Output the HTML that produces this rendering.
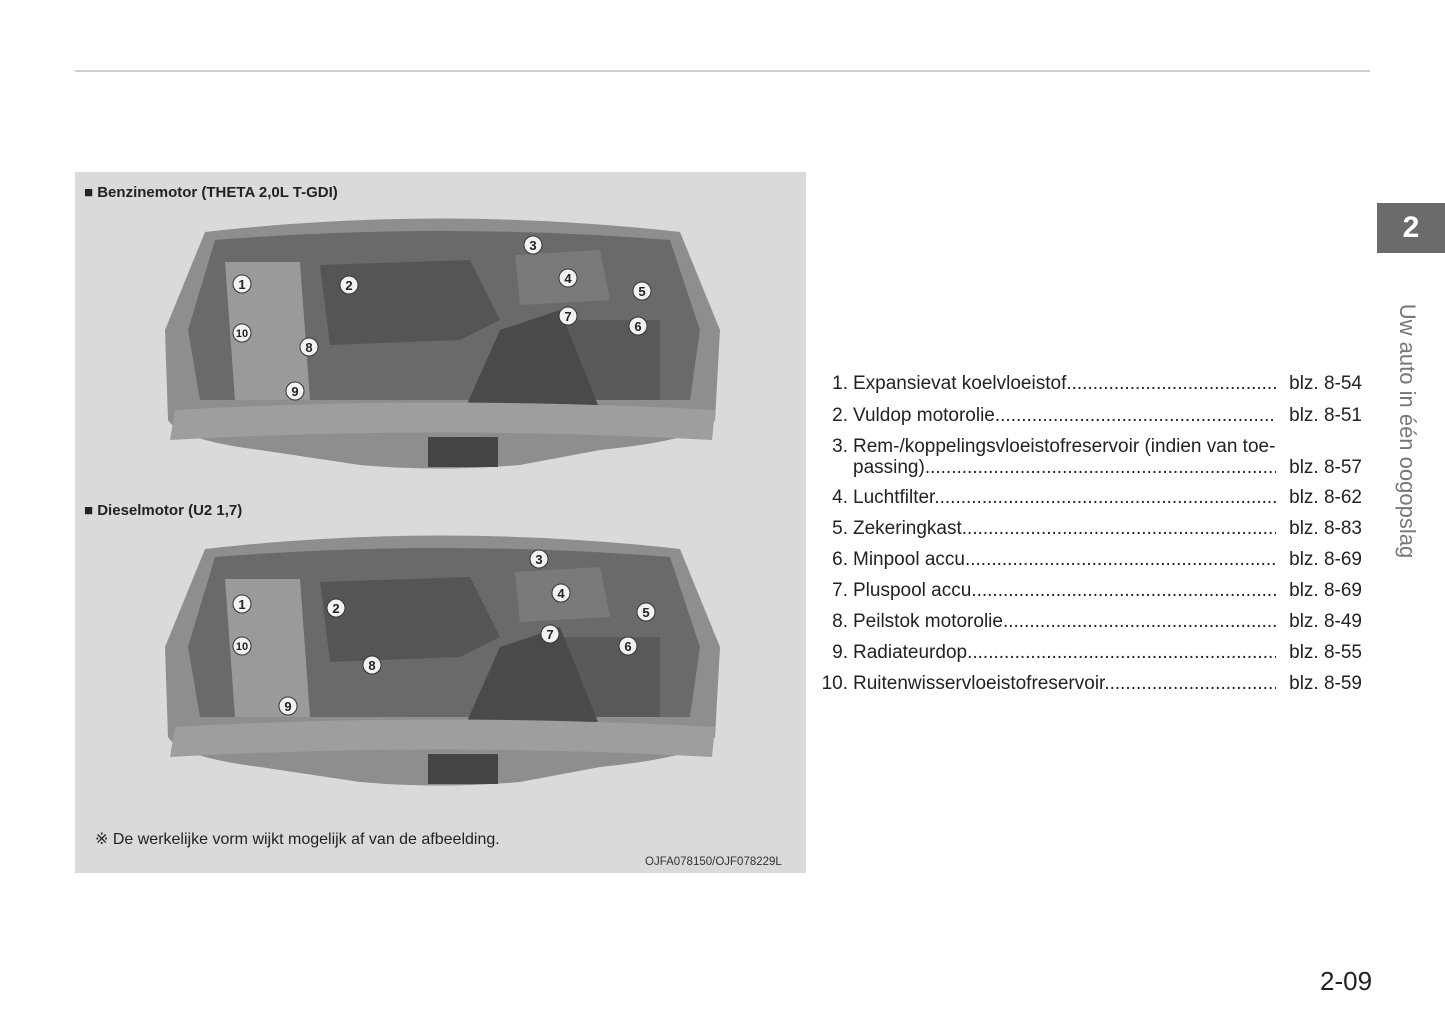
<!DOCTYPE html>
<html><head><meta charset="utf-8"><style>
body{margin:0;width:1445px;height:1025px;background:#fff;position:relative;font-family:"Liberation Sans",sans-serif;overflow:hidden}
.a{position:absolute}
.list div{position:absolute;font-size:19px;color:#222;white-space:nowrap}
.n{width:30px;text-align:right;left:818px}
.t{left:853px;width:423px;overflow:hidden}
.p{right:83px}
</style></head><body>
<div class="a" style="left:75px;top:70px;width:1295px;height:2px;background:#cfcfcf"></div>
<div class="a" style="left:75px;top:172px;width:731px;height:701px;background:#dadada"></div>
<div class="a" style="left:84px;top:184px;font-size:15px;font-weight:bold;color:#222">■ Benzinemotor (THETA 2,0L T-GDI)</div>
<div class="a" style="left:84px;top:502px;font-size:15px;font-weight:bold;color:#222">■ Dieselmotor (U2 1,7)</div>
<div class="a" style="left:95px;top:829px;font-size:16px;color:#222">※ De werkelijke vorm wijkt mogelijk af van de afbeelding.</div>
<div class="a" style="left:645px;top:856px;font-size:11.5px;color:#333">OJFA078150/OJF078229L</div>
<svg class="a" style="left:0;top:0" width="806" height="873">
<g id="e">
<path d="M205,232 Q440,205 680,232 L720,330 L715,420 Q700,440 600,450 L520,465 Q440,472 360,465 L260,450 Q180,440 168,420 L165,330 Z" fill="#8e8e8e"/>
<path d="M215,240 Q440,222 670,240 L700,330 L690,400 L200,400 L188,330 Z" fill="#6a6a6a"/>
<path d="M320,265 L470,260 L500,320 L460,340 L330,345 Z" fill="#555"/>
<path d="M225,262 L300,262 L310,400 L235,400 Z" fill="#9a9a9a"/>
<path d="M515,255 L600,250 L610,300 L520,305 Z" fill="#7a7a7a"/>
<path d="M560,320 L660,320 L660,400 L570,400 Z" fill="#5a5a5a"/>
<path d="M500,330 L560,310 L600,410 L460,420 Z" fill="#4a4a4a"/>
<path d="M175,410 Q440,395 715,410 L712,440 Q440,425 170,440 Z" fill="#9e9e9e"/>
<rect x="428" y="437" width="70" height="30" fill="#444"/>
</g>
<use href="#e" transform="translate(0,317)"/>
<g font-size="13" font-weight="bold" text-anchor="middle" fill="#222">
<g fill="#f2f2f2" stroke="#333" stroke-width="1">
<circle cx="242" cy="284" r="9"/><circle cx="349" cy="285" r="9"/><circle cx="533" cy="245" r="9"/><circle cx="568" cy="278" r="9"/><circle cx="642" cy="291" r="9"/><circle cx="638" cy="326" r="9"/><circle cx="568" cy="316" r="9"/><circle cx="309" cy="347" r="9"/><circle cx="295" cy="391" r="9"/><circle cx="242" cy="333" r="9"/>
<circle cx="242" cy="604" r="9"/><circle cx="336" cy="608" r="9"/><circle cx="539" cy="559" r="9"/><circle cx="561" cy="593" r="9"/><circle cx="646" cy="612" r="9"/><circle cx="628" cy="646" r="9"/><circle cx="550" cy="634" r="9"/><circle cx="372" cy="665" r="9"/><circle cx="288" cy="706" r="9"/><circle cx="242" cy="646" r="9"/>
</g>
<text x="242" y="289">1</text><text x="349" y="290">2</text><text x="533" y="250">3</text><text x="568" y="283">4</text><text x="642" y="296">5</text><text x="638" y="331">6</text><text x="568" y="321">7</text><text x="309" y="352">8</text><text x="295" y="396">9</text><text x="242" y="337" font-size="11">10</text>
<text x="242" y="609">1</text><text x="336" y="613">2</text><text x="539" y="564">3</text><text x="561" y="598">4</text><text x="646" y="617">5</text><text x="628" y="651">6</text><text x="550" y="639">7</text><text x="372" y="670">8</text><text x="288" y="711">9</text><text x="242" y="650" font-size="11">10</text>
</g>
</svg>
<div class="list">
<div class="n" style="top:373px">1.</div><div class="t" style="top:373px">Expansievat koelvloeistof.....................................................................</div><div class="p" style="top:373px">blz. 8-54</div>
<div class="n" style="top:405px">2.</div><div class="t" style="top:405px">Vuldop motorolie..............................................................................</div><div class="p" style="top:405px">blz. 8-51</div>
<div class="n" style="top:436px">3.</div><div class="t" style="top:436px;width:470px">Rem-/koppelingsvloeistofreservoir (indien van toe-</div>
<div class="t" style="top:457px">passing)..........................................................................................</div><div class="p" style="top:457px">blz. 8-57</div>
<div class="n" style="top:487px">4.</div><div class="t" style="top:487px">Luchtfilter........................................................................................</div><div class="p" style="top:487px">blz. 8-62</div>
<div class="n" style="top:518px">5.</div><div class="t" style="top:518px">Zekeringkast....................................................................................</div><div class="p" style="top:518px">blz. 8-83</div>
<div class="n" style="top:549px">6.</div><div class="t" style="top:549px">Minpool accu.....................................................................................</div><div class="p" style="top:549px">blz. 8-69</div>
<div class="n" style="top:580px">7.</div><div class="t" style="top:580px">Pluspool accu...................................................................................</div><div class="p" style="top:580px">blz. 8-69</div>
<div class="n" style="top:611px">8.</div><div class="t" style="top:611px">Peilstok motorolie.............................................................................</div><div class="p" style="top:611px">blz. 8-49</div>
<div class="n" style="top:642px">9.</div><div class="t" style="top:642px">Radiateurdop....................................................................................</div><div class="p" style="top:642px">blz. 8-55</div>
<div class="n" style="top:673px">10.</div><div class="t" style="top:673px">Ruitenwisservloeistofreservoir...........................................................</div><div class="p" style="top:673px">blz. 8-59</div>
</div>
<div class="a" style="left:1377px;top:203px;width:68px;height:50px;background:#6b6b6b;color:#fff;font-size:30px;font-weight:bold;text-align:center;line-height:50px">2</div>
<div class="a" style="left:1262px;top:418px;width:290px;height:26px;transform:rotate(90deg);font-size:22px;color:#777;text-align:center;line-height:26px">Uw auto in één oogopslag</div>
<div class="a" style="left:1320px;top:966px;font-size:26px;color:#222">2-09</div>
</body></html>
